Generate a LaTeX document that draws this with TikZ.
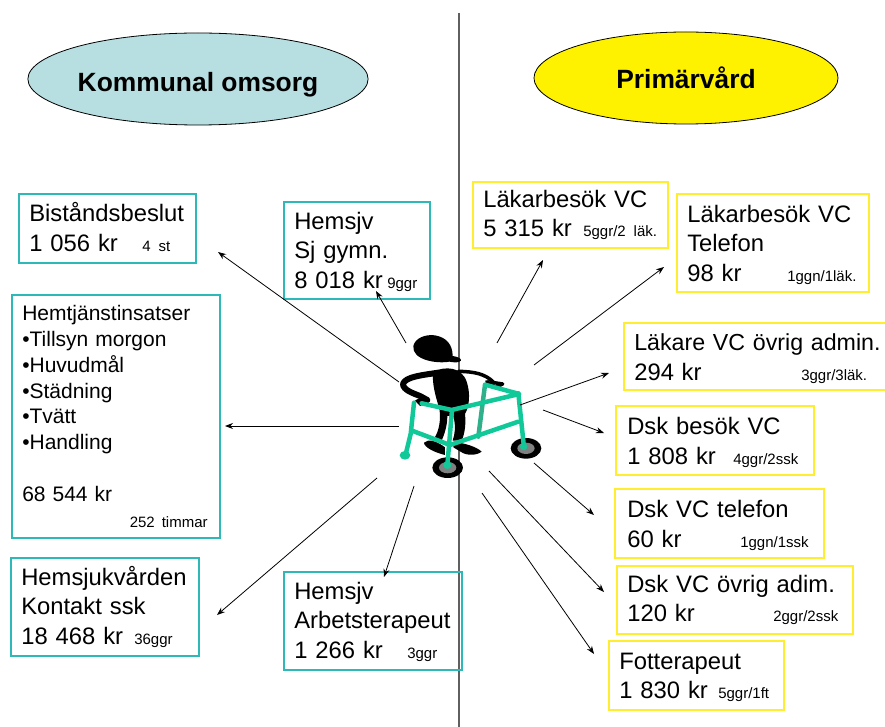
\documentclass[tikz,border=0pt]{standalone}
\usepackage{fontspec}
\setmainfont{Liberation Sans}
\definecolor{tealb}{HTML}{2FB8B8}
\definecolor{yellb}{HTML}{FFEE30}
\definecolor{ell}{HTML}{B7DEE0}
\definecolor{divc}{HTML}{606060}
\definecolor{walker}{HTML}{10C898}
\definecolor{walkerd}{HTML}{2FAF8A}
\definecolor{wheelg}{HTML}{808080}
\newcommand{\sm}[1]{\mbox{\fontsize{15}{15}\selectfont #1}}
\newcommand{\lab}[2]{\makebox[#1pt][l]{#2}}
% \dn{s}: start of first line, moves the node's text s pt down
\newcommand{\dn}[1]{\rule{0pt}{\dimexpr17.5pt+2\dimexpr#1pt\relax\relax}}
\tikzset{
  x=1pt,y=-1pt,
  boxbase/.style n args={2}{draw,line width=1.55pt,anchor=north west,inner xsep=10.5pt,inner ysep=0pt,
     minimum width=#1pt,minimum height=#2pt,text width=#1pt-21pt,align=left,
     font=\fontsize{23.8}{29.5}\selectfont},
  tbox/.style n args={2}{boxbase={#1}{#2},draw=tealb},
  ybox/.style n args={2}{boxbase={#1}{#2},draw=yellb},
  arr/.style={-{Stealth[length=8pt,width=6pt]},line width=0.8pt,black},
  ovalhead/.style={ellipse,draw=black,inner sep=0pt,line width=0.8pt,font=\fontsize{26.4}{30}\selectfont\bfseries},
  gr/.style={line width=4.5pt,draw=walker,line cap=round,line join=round},
  grd/.style={line width=4.5pt,draw=walkerd,line cap=round,line join=round},
}
\usetikzlibrary{arrows.meta,shapes.geometric}
\begin{document}
\begin{tikzpicture}
\useasboundingbox (0,0) rectangle (885,727);
\coordinate (divtop) at (459,13);
\coordinate (divbot) at (459,727);
\draw[divc,line width=1.4pt] (divtop) -- (divbot);

\node[ovalhead,fill=ell,minimum width=340pt,minimum height=92pt] (kom) at (198,79) {\raisebox{-13pt}[0pt][0pt]{Kommunal omsorg}};
\node[ovalhead,fill=yellow,minimum width=304pt,minimum height=92pt] (prim) at (686,78) {Primärvård};

\node[tbox={177}{69}] (bist) at (18,193) {\mbox{Biståndsbeslut}\\\lab{113}{1 056 kr}\sm{4 st}\rule[-3pt]{0pt}{3pt}};
\node[tbox={146}{97}] (sjg) at (283,201) {\dn{1.5}Hemsjv\\Sj gymn.\\\lab{93}{8 018 kr}\sm{9ggr}};
\node[tbox={208}{243},font=\fontsize{21}{25.8}\selectfont] (hemt) at (11,294) {\mbox{Hemtjänstinsatser}\\•Tillsyn morgon\\•Huvudmål\\•Städning\\•Tvätt\\•Handling\\[25.8pt]68 544 kr\\\hspace*{107.5pt}\mbox{\fontsize{15}{15}\selectfont 252 timmar}};
\node[tbox={188}{98}] (ssk) at (10,557) {\mbox{Hemsjukvården}\\Kontakt ssk\\\lab{113}{18 468 kr}\sm{36ggr}};
\node[tbox={178}{98}] (arb) at (283,571) {\dn{1}Hemsjv\\\mbox{Arbetsterapeut}\\\lab{113}{1 266 kr}\sm{3ggr}};

\node[ybox={195}{66}] (lak) at (472,181) {\mbox{Läkarbesök VC}\\\lab{100}{5 315 kr}\sm{5ggr/2 läk.}};
\node[ybox={192}{98}] (tel) at (676,193) {\dn{2}\mbox{Läkarbesök VC}\\Telefon\\\lab{100}{98 kr}\sm{1ggn/1läk.}};
\node[ybox={262}{67},font=\fontsize{23.2}{29.5}\selectfont] (ovr) at (623,322) {\dn{2}\mbox{Läkare VC övrig admin.}\\\lab{167}{\fontsize{23.8}{29.5}\selectfont 294 kr}\sm{3ggr/3läk.}};
\node[ybox={198}{69}] (dbes) at (615,405) {\dn{2}\hspace*{1pt}\mbox{Dsk besök VC}\\\hspace*{1pt}\lab{106}{1 808 kr}\sm{4ggr/2ssk}};
\node[ybox={209}{69}] (dtel) at (614,488) {\dn{2}\hspace*{2pt}\mbox{Dsk VC telefon}\\\hspace*{2pt}\lab{113}{60 kr}\sm{1ggn/1ssk}};
\node[ybox={236}{68}] (dovr) at (616,565) {\mbox{Dsk VC övrig adim.}\\\lab{146}{120 kr}\sm{2ggr/2ssk}};
\node[ybox={175}{69}] (fot) at (608,640) {\dn{1.5}\mbox{Fotterapeut}\\\lab{99}{1 830 kr}\sm{5ggr/1ft}};

% figure with walker
\begin{scope}[shift={(370,310)},x=0.3333pt,y=-0.3333pt]
  \fill[black] (233,473) ellipse [x radius=46,y radius=31];
  \fill[wheelg] (233,473) ellipse [x radius=26,y radius=17];
  \fill[black] (468,415) ellipse [x radius=46,y radius=31];
  \fill[wheelg] (468,415) ellipse [x radius=26,y radius=17];
  \draw[grd] (345,225) -- (325,380);
  % head
  \fill[black] (130,108) .. controls (135,85) and (165,72) .. (195,76)
     .. controls (230,82) and (248,105) .. (248,138)
     .. controls (262,140) and (275,145) .. (273,152)
     .. controls (265,160) and (250,157) .. (238,155)
     .. controls (200,162) and (125,150) .. (130,108) -- cycle;
  % torso
  \fill[black] (190,185) .. controls (225,168) and (275,170) .. (290,215)
     .. controls (302,250) and (298,290) .. (285,312)
     .. controls (288,340) and (285,370) .. (275,392)
     -- (248,392) .. controls (255,370) and (258,350) .. (250,318)
     -- (232,318) .. controls (232,350) and (222,375) .. (215,392)
     -- (193,385) .. controls (208,360) and (213,330) .. (208,295)
     .. controls (195,255) and (185,215) .. (190,185) -- cycle;
  % arms
  \draw[black,line width=6pt,line cap=round,line join=round] (205,188) .. controls (160,195) and (105,200) .. (99,222)
     .. controls (99,240) and (130,250) .. (150,258) -- (172,270);
  \draw[black,line width=3.5pt,line cap=round,line join=round] (265,184) .. controls (310,185) and (345,190) .. (372,218) -- (398,222) -- (375,232) -- (350,215);
  \fill[black] (135,272) .. controls (145,262) and (165,262) .. (178,275) -- (150,288) -- cycle;
  % feet
  \fill[black] (162,398) .. controls (175,385) and (200,393) .. (225,412) -- (225,435) .. controls (195,428) and (162,412) .. (162,398) -- cycle;
  \fill[black] (250,396) .. controls (280,398) and (320,410) .. (335,425) .. controls (320,437) and (290,437) .. (275,427) -- (250,412) -- cycle;
  % frame
  \draw[gr] (155,280) -- (245,300) -- (448,252) -- (345,224);
  \draw[gr] (132,278) -- (122,372) -- (106,437);
  \draw[gr] (126,362) -- (240,405) -- (445,335);
  \draw[gr] (246,300) -- (232,466);
  \draw[gr] (445,250) -- (462,412);
  \fill[walker] (105,436) ellipse [x radius=16,y radius=13];
  \fill[walker] (232,465) circle (12);
  \fill[walker] (461,410) circle (11);
\end{scope}

% connector free ends
\foreach \n/\x/\y in {a/399/382,b/406/343,c/399/426,d/377/478,e/414/486,f/497/343,g/534/365,h/520/405,i/543/410,j/534/463,k/489/471,l/482/493,
  A/218/252,B/376/291,C/225/426,D/217/615,E/384/577,F/543/260,G/664/267,H/609/373,I/604/433,J/594/515,K/604/592,L/594/654}
  {\coordinate (p\n) at (\x,\y);}
\foreach \s/\t in {a/A,b/B,c/C,d/D,e/E,f/F,g/G,h/H,i/I,j/J,k/K,l/L}
  {\draw[arr] (p\s) -- (p\t);}
\end{tikzpicture}
\end{document}
